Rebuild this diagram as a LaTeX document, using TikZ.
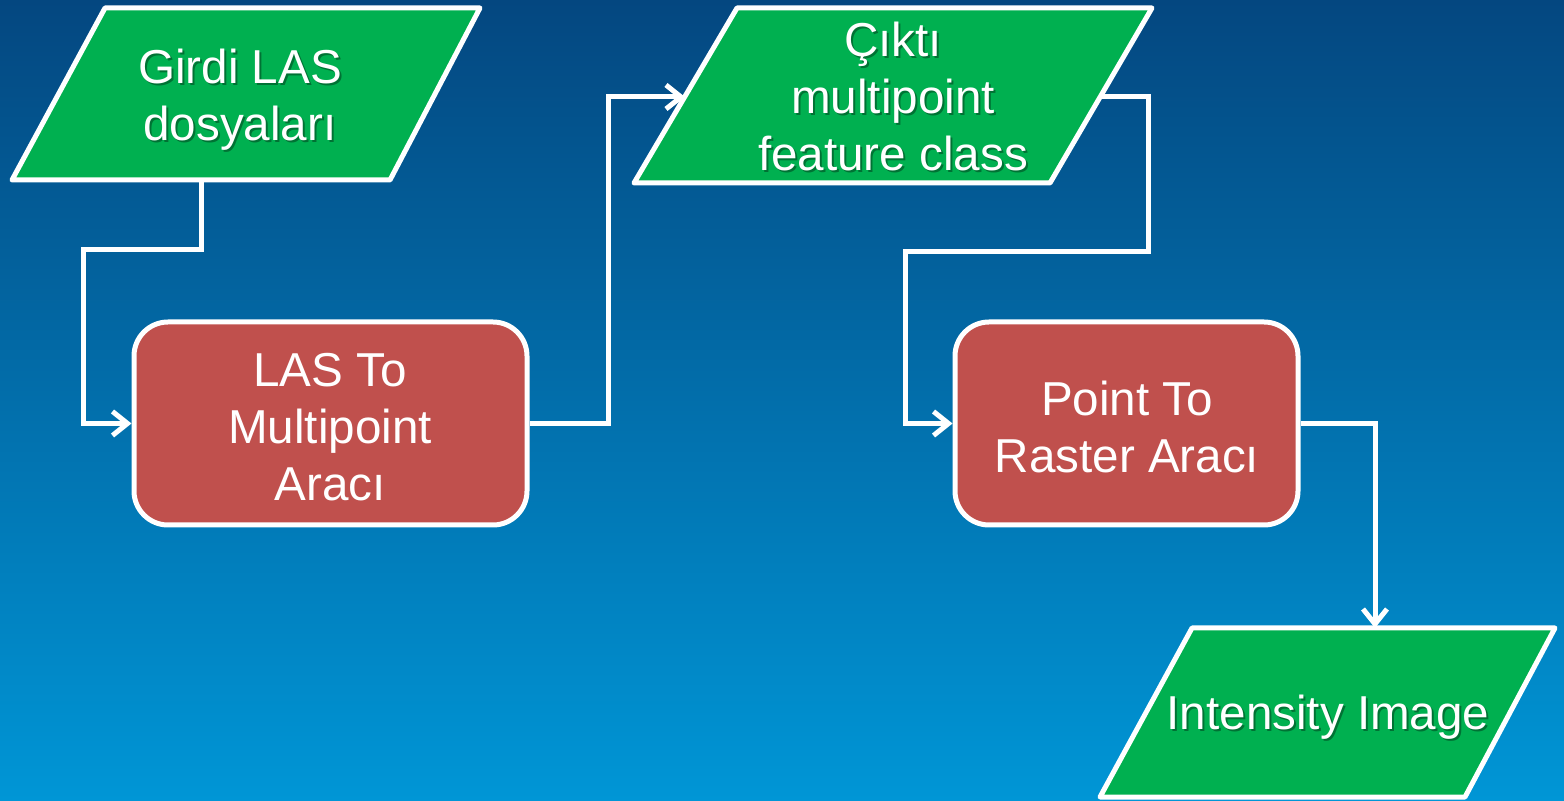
\documentclass[tikz,border=0pt]{standalone}
\usepackage{fontspec}
\setmainfont{Liberation Sans}
\usetikzlibrary{arrows.meta,calc}
\definecolor{bgtop}{RGB}{4,71,128}
\definecolor{bgbot}{RGB}{0,150,214}
\definecolor{iogreen}{RGB}{0,176,80}
\definecolor{procred}{RGB}{192,80,77}
\begin{document}
\begin{tikzpicture}[x=0.5pt,y=-0.5pt,
  io/.style={fill=iogreen,draw=white,line width=2.5pt,line join=round},
  proc/.style={rectangle,rounded corners=17pt,fill=procred,draw=white,line width=2.5pt,inner sep=0pt},
  lbl/.style={text=white,font=\fontsize{23.8}{28.5}\selectfont,align=center,inner sep=0pt},
  shd/.style={text=black,text opacity=0.35,font=\fontsize{23.8}{28.5}\selectfont,align=center,inner sep=0pt},
  conn/.style={draw=white,line width=2.5pt,-{Straight Barb[length=7.5pt,width=12pt]}}
]
\useasboundingbox (0,0) rectangle (1564,801);
\shade[top color=bgtop,bottom color=bgbot] (0,0) rectangle (1564,801);

% input parallelogram
\filldraw[io] (105,8) -- (480,8) -- (390,180) -- (12,180) -- cycle;
\node[shd] (inshadow) at (242,102) {Girdi LAS\\dosyaları};
\node[lbl] (in) at (240,100) {Girdi LAS\\dosyaları};
\coordinate (inS) at (201,180);

% output parallelogram
\filldraw[io] (737,8) -- (1152,8) -- (1050,183) -- (634,183) -- cycle;
\node[shd] (outshadow) at (895,98) {Çıktı\\multipoint\\feature class};
\node[lbl] (out) at (893,96) {Çıktı\\multipoint\\feature class};
\coordinate (outW) at (685,97);
\coordinate (outE) at (1100,97);

% image parallelogram
\filldraw[io] (1192,628) -- (1555,628) -- (1465,797) -- (1100,797) -- cycle;
\node[shd] (imgshadow) at (1330,719) {Intensity Image};
\node[lbl] (img) at (1328,717) {Intensity Image};
\coordinate (imgN) at (1375,628);

% process boxes
\node[proc,minimum width=196.5pt,minimum height=101.5pt] (p1) at (330.5,423.5) {};
\node[lbl] (p1t) at (330,427) {LAS To\\Multipoint\\Aracı};
\node[proc,minimum width=171.5pt,minimum height=101.5pt] (p2) at (1126.5,423.5) {};
\node[lbl] (p2t) at (1127,427) {Point To\\Raster Aracı};

% connectors
\draw[conn] (inS) -- ++(0,70) -| ([xshift=-24pt]p1.west) -- (p1.west);
\draw[conn] (p1.east) -- ++(79,0) |- (outW);
\draw[conn] (outE) -- ++(48,0) -- ++(0,155) -| ([xshift=-23.5pt]p2.west) -- (p2.west);
\draw[conn] (p2.east) -| (imgN);
\end{tikzpicture}
\end{document}
